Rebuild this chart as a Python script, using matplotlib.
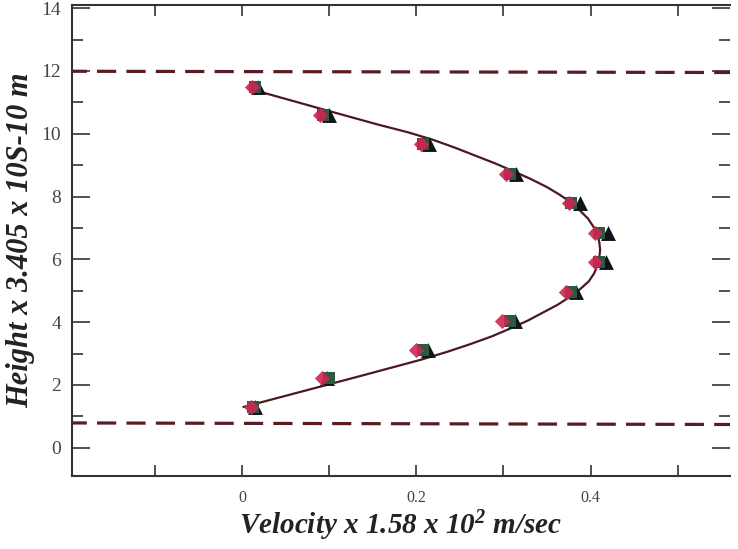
import matplotlib
matplotlib.use("Agg")
import matplotlib.pyplot as plt
from matplotlib.ticker import MultipleLocator, FixedLocator, FixedFormatter

plt.rcParams['mathtext.fontset'] = 'custom'
plt.rcParams['mathtext.rm'] = 'Liberation Serif:bold:italic'
plt.rcParams['mathtext.it'] = 'Liberation Serif:bold:italic'
plt.rcParams['mathtext.bf'] = 'Liberation Serif:bold:italic'

# ---- data ----
levels = [11.5, 10.6, 9.67, 8.72, 7.8, 6.85, 5.9, 4.97, 4.05, 3.12, 2.22, 1.3]
red_x = [0.012, 0.090, 0.205, 0.303, 0.375, 0.405, 0.405, 0.372, 0.298, 0.200, 0.092, 0.010]
green_x = [0.015, 0.093, 0.208, 0.307, 0.378, 0.410, 0.410, 0.377, 0.308, 0.208, 0.100, 0.013]
tri_x = [0.018, 0.100, 0.215, 0.315, 0.388, 0.420, 0.418, 0.383, 0.313, 0.213, 0.098, 0.015]

curve_y = [1.30, 1.8, 2.3, 2.8, 3.05, 3.3, 3.55, 3.8, 4.05, 4.3, 4.55, 4.8,
           5.05, 5.3, 5.55, 5.8, 6.05, 6.3, 6.55, 6.8, 7.05, 7.3, 7.55, 7.8,
           8.05, 8.3, 8.55, 8.8, 9.05, 9.3, 9.55, 9.8, 10.05, 10.3, 10.8, 11.42]
curve_x = [0.002, 0.070, 0.138, 0.205, 0.235, 0.262, 0.287, 0.308, 0.328,
           0.345, 0.362, 0.376, 0.388, 0.398, 0.404, 0.408, 0.410, 0.411,
           0.410, 0.408, 0.403, 0.397, 0.388, 0.378, 0.365, 0.350, 0.332,
           0.312, 0.291, 0.268, 0.245, 0.220, 0.190, 0.155, 0.090, 0.010]

wall_x = [-0.2, 0.56]
upper_wall_y = [11.99, 11.95]
lower_wall_y = [0.79, 0.74]

x_tick_vals = [0.0, 0.2, 0.4]
x_tick_labels = ['0', '0.2', '0.4']
y_tick_vals = [0, 2, 4, 6, 8, 10, 12, 14]
y_tick_labels = ['0', '2', '4', '6', '8', '10', '12', '14']

# ---- figure ----
fig = plt.figure(figsize=(7.38, 5.49), dpi=100)
ax = fig.add_axes([72/738, 1-476/549, (730-72)/738, (476-5)/549])

maroon = '#5a1c24'
ax.plot(wall_x, upper_wall_y, color=maroon, lw=2.3, dashes=(6, 3.2), zorder=2)
ax.plot(wall_x, lower_wall_y, color=maroon, lw=2.3, dashes=(6, 3.2), zorder=2)

ax.plot(curve_x, curve_y, color='#4a1a20', lw=1.6, zorder=3,
        solid_joinstyle='round')

ax.scatter(tri_x, levels, marker='^', s=115, color='#10141c', zorder=4, linewidths=0)
ax.scatter(green_x, levels, marker='s', s=85, color='#2c5a40', zorder=5, linewidths=0)
ax.scatter(red_x, levels, marker='D', s=60, color='#d02552', zorder=6, linewidths=0, alpha=0.9)

ax.set_xlim(-0.195, 0.56)
ax.set_ylim(-0.9, 14.1)

ax.xaxis.set_major_locator(FixedLocator(x_tick_vals))
ax.xaxis.set_major_formatter(FixedFormatter(x_tick_labels))
ax.xaxis.set_minor_locator(FixedLocator([-0.1, 0.1, 0.3, 0.5]))
ax.yaxis.set_major_locator(FixedLocator(y_tick_vals))
ax.yaxis.set_major_formatter(FixedFormatter(y_tick_labels))
ax.yaxis.set_minor_locator(MultipleLocator(1))

ax.tick_params(axis='x', which='both', direction='in', top=True, bottom=True,
               length=8, width=1.2, color='#333333', pad=10)
ax.tick_params(axis='y', which='major', direction='in', left=True, right=True,
               length=13, width=1.2, color='#333333', pad=8)
ax.tick_params(axis='y', which='minor', direction='in', left=True, right=True,
               length=8, width=1.2, color='#333333')

for lab in ax.get_xticklabels():
    lab.set_fontfamily('Liberation Serif')
    lab.set_fontsize(11.5)
    lab.set_color('#444444')
for lab in ax.get_yticklabels():
    lab.set_fontfamily('Liberation Serif')
    lab.set_fontsize(14)
    lab.set_color('#444444')

for side in ['left', 'bottom', 'top']:
    ax.spines[side].set_linewidth(1.5)
    ax.spines[side].set_color('#333333')
ax.spines['right'].set_visible(False)

ax.set_xlabel('Velocity x 1.58 x 10$^{2}$ m/sec', fontfamily='Liberation Serif',
              fontweight='bold', fontstyle='italic', fontsize=21, color='#222222',
              labelpad=2)
ax.set_ylabel('Height x 3.405 x 10S-10 m', fontfamily='Liberation Serif',
              fontweight='bold', fontstyle='italic', fontsize=22, color='#222222',
              labelpad=4)

fig.savefig('out.png', dpi=100)
